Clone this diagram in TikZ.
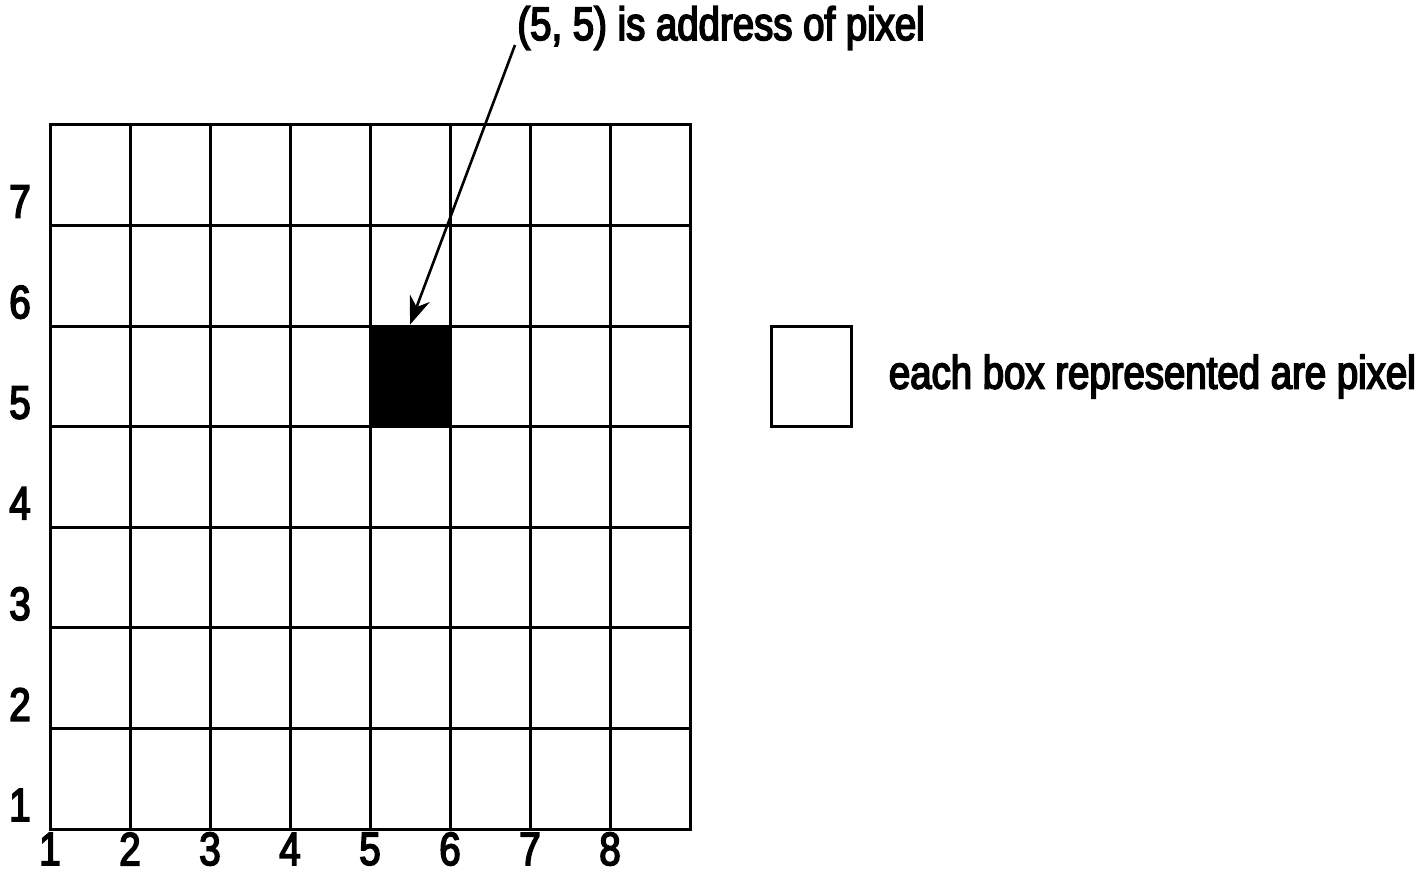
\documentclass[tikz,border=0pt]{standalone}
\usepackage{fontspec}
\setmainfont[FakeStretch=0.82,FakeBold=3.5]{Liberation Sans}
\usepackage{tikz}
\usetikzlibrary{arrows.meta,positioning}

\begin{document}
\begin{tikzpicture}[
  x=0.5pt, y=-0.5pt,
  font=\fontsize{23.4}{27}\selectfont,
  >=Stealth,
  % ── one pixel box ─────────────────────────────────────────────────────────
  cell/.style={
    draw=black, line width=1.5pt, fill=white,
    minimum width=40pt, minimum height=50.29pt,
    inner sep=0pt
  },
  % ── numbers and captions ─────────────────────────────────────────────────
  lab/.style={inner sep=0pt, text=black},
  % ── arrow ────────────────────────────────────────────────────────────────
  arr/.style={-{Stealth[length=14pt,width=10.5pt]}, line width=1.3pt},
]
\useasboundingbox (0,0) rectangle (1428,873);

%% ── Pixel grid (8 columns, 7 rows) ────────────────────────────────────────
\foreach \c in {1,...,8}
  \foreach \r in {1,...,7}
    \node[cell] (c\c\r) at ({10+80*\c}, {125+100.57*(7.5-\r)}) {};

%% ── Marked pixel ──────────────────────────────────────────────────────────
\node[cell, fill=black] (c55) at (410, {125+100.57*2.5}) {};

%% ── Row and column numbers ────────────────────────────────────────────────
\foreach \r in {1,...,7}
  \node[lab] (rowlab\r) at (20, {125+100.57*(8-\r)-24}) {\r};
\foreach \c in {1,...,8}
  \node[lab] (collab\c) at ({50+80*(\c-1)}, 849) {\c};

%% ── Address caption and arrow ─────────────────────────────────────────────
\node[lab, anchor=base west] (addr) at (517, 40) {(5, 5) is address of pixel};
\draw[arr] ([shift={(-2,5)}]addr.base west) -- (c55.north);

%% ── Legend ────────────────────────────────────────────────────────────────
\node[cell] (key) at (811, 376.5) {};
\node[lab, right=18pt of key] (keytext) {each box represented are pixel};

\end{tikzpicture}
\end{document}
